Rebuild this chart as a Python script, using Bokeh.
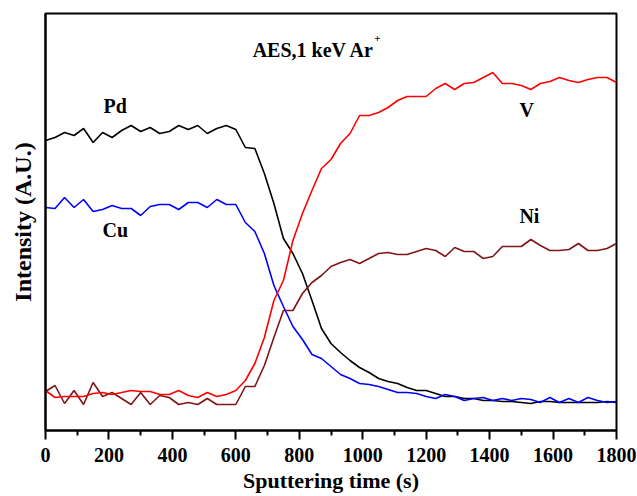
from bokeh.plotting import figure
from bokeh.models import Range1d, FixedTicker, Label
from bokeh.embed import file_html
from bokeh.resources import INLINE

# Sputtering time (s), one AES sample every 30 s
time_s = list(range(0, 1801, 30))

# Peak-to-peak intensities (arbitrary units)
pd_signal = [290, 293, 298, 295, 302, 288, 298, 293, 300, 305, 299, 303, 297, 299, 305, 301, 305, 297, 302, 305, 301,
             283, 282, 257, 227, 192, 177, 157, 130, 102, 87, 78, 70, 63, 58, 52, 49, 47, 43, 40, 40, 37, 34,
             34, 32, 32, 30, 30, 29, 29, 28, 27, 29, 29, 28, 28, 28, 28, 28, 29, 28]
cu_signal = [223, 222, 233, 223, 231, 219, 221, 225, 222, 222, 215, 224, 226, 226, 221, 228, 228, 223, 231, 226, 226,
             208, 199, 177, 145, 124, 104, 91, 76, 72, 64, 56, 52, 47, 46, 44, 41, 38, 38, 37, 34, 32, 36,
             34, 30, 32, 33, 30, 32, 30, 32, 31, 28, 33, 28, 32, 28, 33, 30, 28, 29]
v_signal = [40, 33, 34, 34, 34, 37, 38, 36, 38, 40, 39, 39, 36, 36, 40, 35, 33, 38, 34, 36, 40,
            50, 67, 93, 130, 150, 190, 217, 240, 262, 271, 287, 297, 315, 315, 318, 323, 330, 334, 334, 334, 342, 347,
            341, 347, 348, 353, 358, 347, 347, 345, 341, 347, 349, 353, 350, 348, 351, 353, 353, 348]
ni_signal = [39, 45, 27, 40, 26, 48, 34, 38, 32, 26, 38, 26, 35, 33, 26, 28, 26, 32, 26, 26, 26,
             44, 44, 65, 93, 120, 120, 137, 148, 155, 164, 168, 171, 167, 172, 177, 178, 176, 176, 179, 182, 180, 174,
             183, 179, 179, 172, 174, 184, 184, 184, 191, 185, 180, 180, 181, 187, 180, 180, 182, 187]

x_ticks = [0, 200, 400, 600, 800, 1000, 1200, 1400, 1600, 1800]

FONT = "Liberation Serif"

p = figure(width=637, height=496, output_backend="svg", toolbar_location=None,
           x_range=Range1d(0, 1800), y_range=Range1d(0, 417),
           min_border_left=45, min_border_right=21, min_border_top=13, min_border_bottom=66,
           background_fill_color="white", border_fill_color="white")

p.xgrid.visible = False
p.ygrid.visible = False
p.outline_line_color = "black"
p.outline_line_width = 2

# bottom axis
xa = p.xaxis[0]
xa.ticker = FixedTicker(ticks=x_ticks, minor_ticks=list(range(100, 1800, 200)))
xa.axis_line_width = 2
xa.major_tick_line_width = 2
xa.minor_tick_line_width = 2
xa.major_tick_in = 0
xa.major_tick_out = 9
xa.minor_tick_in = 0
xa.minor_tick_out = 5
xa.major_label_text_font = FONT
xa.major_label_text_font_style = "bold"
xa.major_label_text_font_size = "20px"
xa.major_label_text_color = "black"
xa.major_label_standoff = 8
xa.axis_label = "Sputtering time (s)"
xa.axis_label_text_font = FONT
xa.axis_label_text_font_style = "bold"
xa.axis_label_text_font_size = "22px"
xa.axis_label_text_color = "black"
xa.axis_label_standoff = 3

# left axis: label only
ya = p.yaxis[0]
ya.ticker = FixedTicker(ticks=[])
ya.axis_line_width = 2
ya.major_tick_out = 0
ya.minor_tick_out = 0
ya.major_tick_in = 0
ya.minor_tick_in = 0
ya.axis_label = "Intensity (A.U.)"
ya.axis_label_text_font = FONT
ya.axis_label_text_font_style = "bold"
ya.axis_label_text_font_size = "24px"
ya.axis_label_text_color = "black"
ya.axis_label_standoff = 10

LW = 1.6
p.line(time_s, pd_signal, line_color="black", line_width=LW)
p.line(time_s, cu_signal, line_color="#0000ff", line_width=LW)
p.line(time_s, ni_signal, line_color="#7f1518", line_width=LW)
p.line(time_s, v_signal, line_color="#ff0000", line_width=LW)

def tag(x, y, text, size="20px"):
    p.add_layout(Label(x=x, y=y, text=text, text_font=FONT, text_font_style="bold",
                       text_font_size=size, text_color="black",
                       text_align="left", text_baseline="alphabetic"))

tag(183, 325, "Pd")
tag(180, 201, "Cu")
tag(1494, 321, "V")
tag(1494, 215, "Ni")
tag(653, 381, "AES,1 keV Ar", size="20px")
tag(1036, 392, "+", size="11px")

open("out.html", "w").write(file_html(p, INLINE))
